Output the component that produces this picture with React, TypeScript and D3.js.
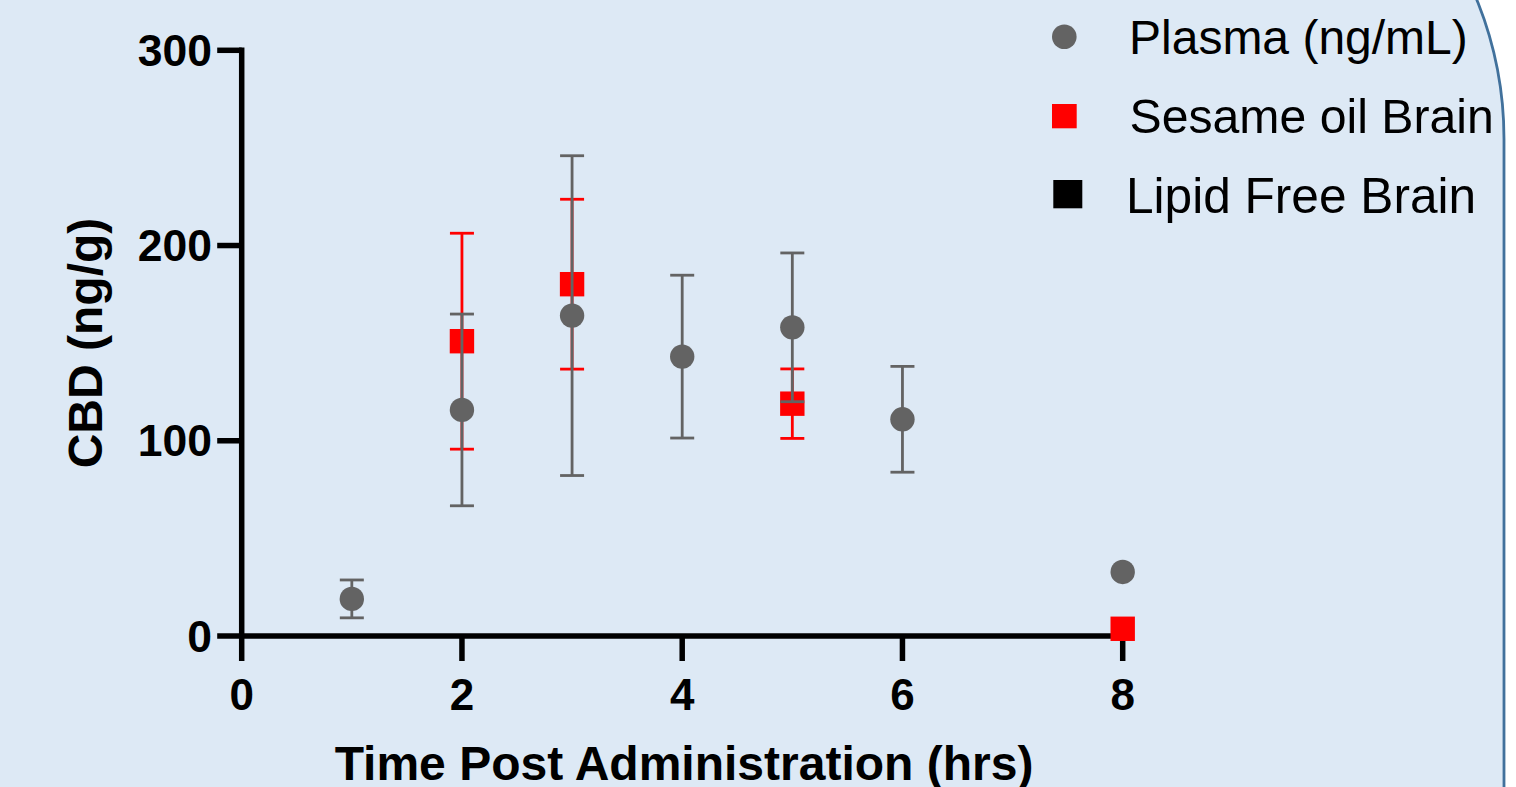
import React from "react";
import * as d3 from "d3";

const xTicks = [0, 2, 4, 6, 8];
const yTicks = [0, 100, 200, 300];

const plasmaTime = [1, 2, 3, 4, 5, 6, 8];
const plasmaMean = [19.0, 115.8, 164.1, 143.1, 158.1, 111.0, 32.8];
const plasmaErr = [9.7, 49.1, 81.9, 41.7, 38.1, 27.1, 0];

const sesameTime = [2, 3, 5, 8];
const sesameMean = [151.0, 180.2, 119.0, 3.7];
const sesameErr = [55.3, 43.5, 17.8, 0];

const legendLabels = ["Plasma (ng/mL)", "Sesame oil Brain", "Lipid Free Brain"];
const xTitle = "Time Post Administration (hrs)";
const yTitle = "CBD (ng/g)";

const W = 1516;
const H = 787;
const FONT = "'Liberation Sans', Arial, Helvetica, sans-serif";
const GRAY = "#636363";
const RED = "#ff0000";

export default function App() {
  const x = d3.scaleLinear().domain([0, 8]).range([241.7, 1122.7]);
  const y = d3.scaleLinear().domain([0, 300]).range([636, 50.3]);
  const capW = 24;
  const r = 12.2;
  const sq = 24.4;

  const errBar = (t: number, m: number, e: number, color: string, key: string) => {
    if (!e) return null;
    const cx = x(t);
    return (
      <g key={key} stroke={color} strokeWidth={2.8}>
        <line x1={cx} x2={cx} y1={y(m + e)} y2={y(m - e)} />
        <line x1={cx - capW / 2} x2={cx + capW / 2} y1={y(m + e)} y2={y(m + e)} />
        <line x1={cx - capW / 2} x2={cx + capW / 2} y1={y(m - e)} y2={y(m - e)} />
      </g>
    );
  };

  const axisW = 5.5;
  const legX = [1129, 1129.5, 1126];
  const legY = [54, 133, 213];
  const legSize = [48, 48.2, 49.6];

  return (
    <svg
      width={W}
      height={H}
      style={{ position: "fixed", left: 0, top: 0, background: "#ffffff" }}
      fontFamily={FONT}
    >
      <rect x={-400} y={-231} width={1904} height={1400} rx={370} ry={370} fill="#dde9f5" stroke="#41719c" strokeWidth={2.8} />

      {/* axes */}
      <g stroke="#000" strokeWidth={axisW} strokeLinecap="butt">
        <line x1={x(0)} x2={x(0)} y1={y(300) - axisW / 2} y2={y(0)} />
        <line x1={x(0)} x2={x(8) + axisW / 2} y1={y(0)} y2={y(0)} />
        {yTicks.map((t) => (
          <line key={"yt" + t} x1={x(0) - 24.5} x2={x(0)} y1={y(t)} y2={y(t)} />
        ))}
        {xTicks.map((t) => (
          <line key={"xt" + t} x1={x(t)} x2={x(t)} y1={y(0)} y2={y(0) + 25} />
        ))}
      </g>
      {yTicks.map((t) => (
        <text key={"yl" + t} x={212} y={y(t) + 15.5} textAnchor="end" fontSize={44.5} fontWeight="bold" fill="#000">
          {t}
        </text>
      ))}
      {xTicks.map((t) => (
        <text key={"xl" + t} x={x(t)} y={710} textAnchor="middle" fontSize={44} fontWeight="bold" fill="#000">
          {t}
        </text>
      ))}
      <text x={684} y={780} textAnchor="middle" fontSize={48} fontWeight="bold" fill="#000">
        {xTitle}
      </text>
      <text
        transform={`translate(102,343) rotate(-90)`}
        textAnchor="middle"
        fontSize={48}
        fontWeight="bold"
        fill="#000"
      >
        {yTitle}
      </text>

      {/* sesame oil brain */}
      {sesameTime.map((t, i) => (
        <rect key={"sq" + i} x={x(t) - sq / 2} y={y(sesameMean[i]) - sq / 2} width={sq} height={sq} fill={RED} />
      ))}
      {sesameTime.map((t, i) => errBar(t, sesameMean[i], sesameErr[i], RED, "se" + i))}

      {/* plasma */}
      {plasmaTime.map((t, i) => errBar(t, plasmaMean[i], plasmaErr[i], GRAY, "pe" + i))}
      {plasmaTime.map((t, i) => (
        <circle key={"pc" + i} cx={x(t)} cy={y(plasmaMean[i])} r={r} fill={GRAY} />
      ))}

      {/* legend */}
      <circle cx={1064.3} cy={36.7} r={12.3} fill={GRAY} />
      <rect x={1052} y={104} width={24.7} height={24.3} fill={RED} />
      <rect x={1053.3} y={180} width={29} height={28.3} fill="#000" />
      {legendLabels.map((l, i) => (
        <text key={"lg" + i} x={legX[i]} y={legY[i]} fontSize={legSize[i]} fill="#000">
          {l}
        </text>
      ))}
    </svg>
  );
}
